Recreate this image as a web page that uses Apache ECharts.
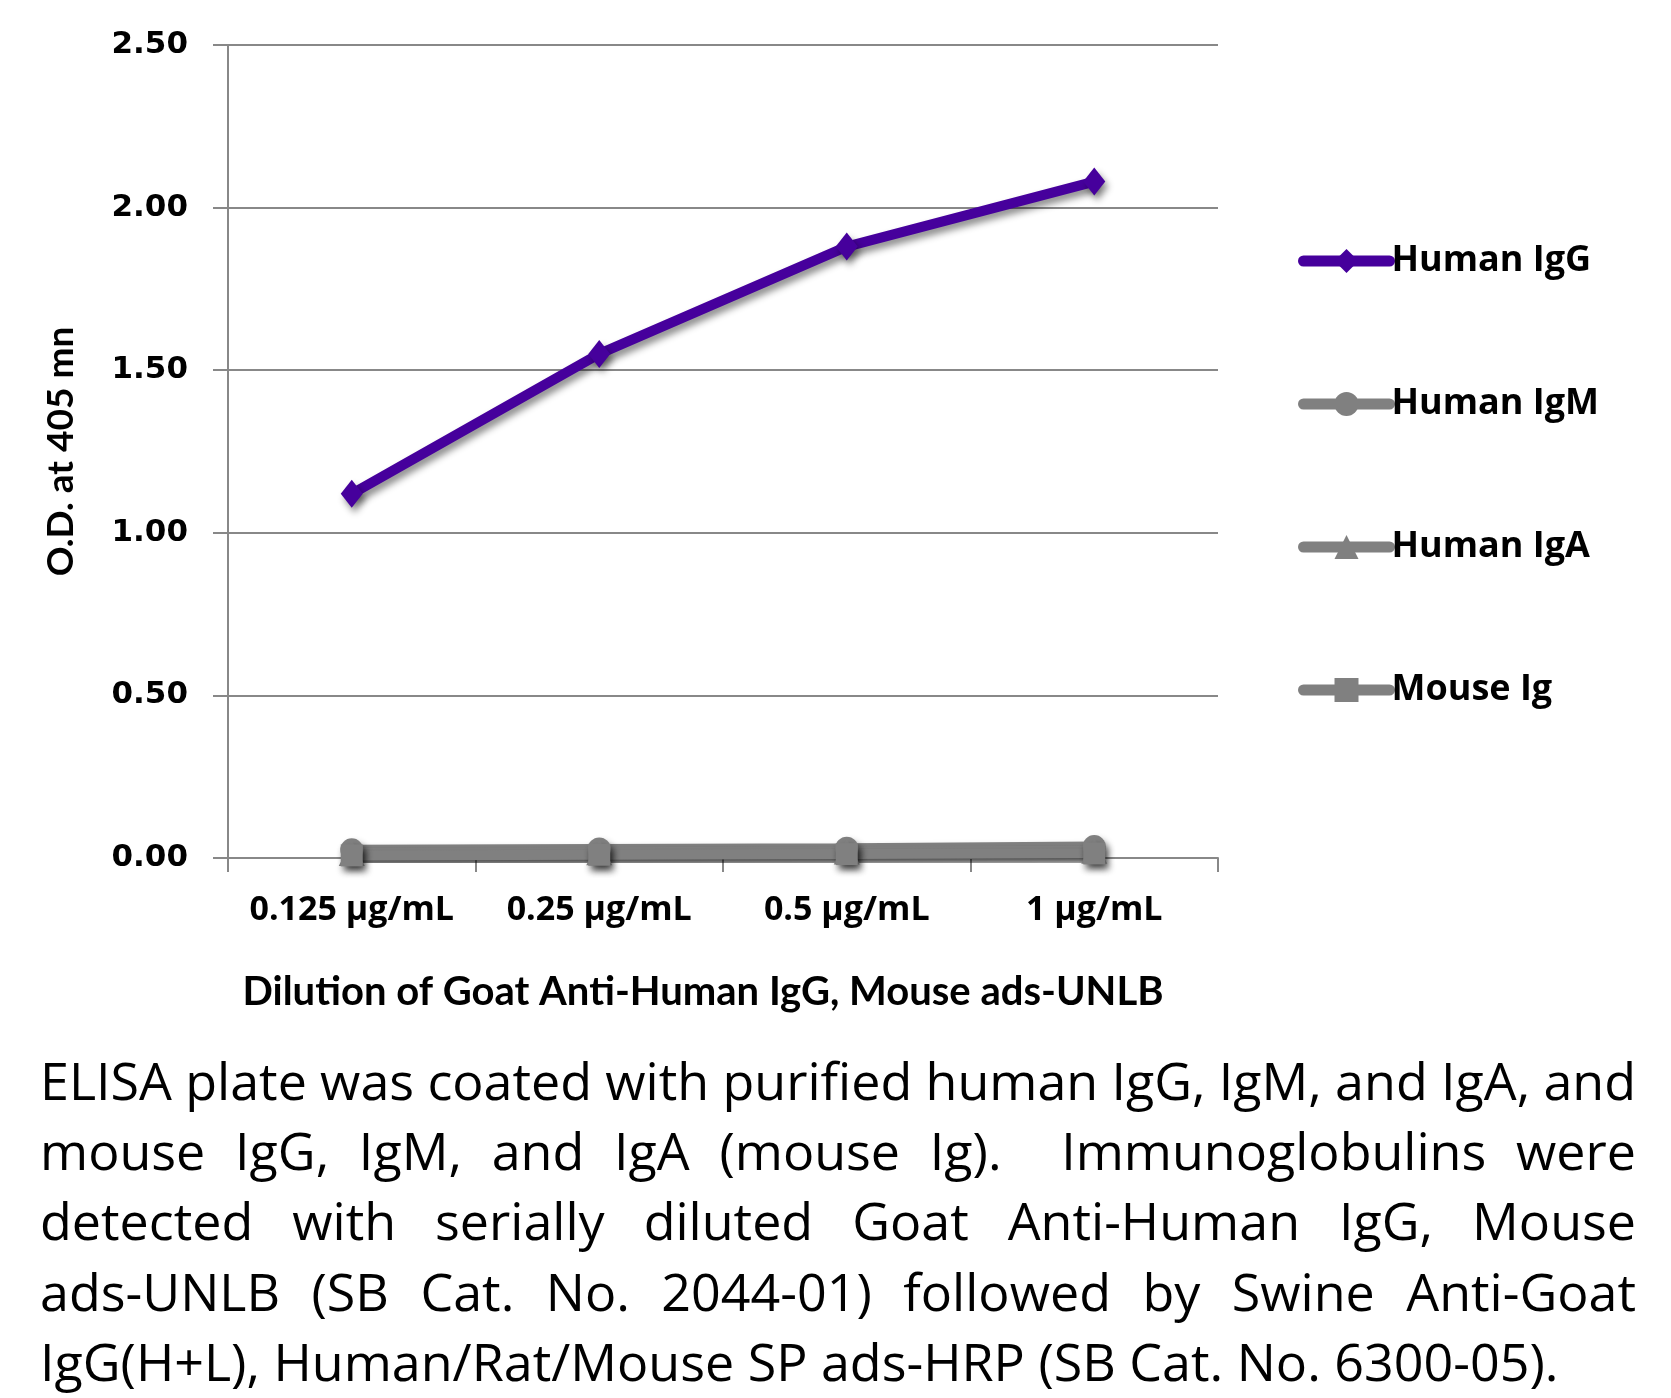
<!DOCTYPE html>
<html><head><meta charset="utf-8">
<script src="https://cdn.jsdelivr.net/npm/echarts@6/dist/echarts.min.js"></script>
<style>html,body{margin:0;padding:0;background:#fff}#c{width:1671px;height:1398px}</style>
</head><body><div id="c"></div>
<script>
// ---- data ----
const categories = ['0.125 µg/mL', '0.25 µg/mL', '0.5 µg/mL', '1 µg/mL'];
const seriesNames = ['Human IgG', 'Human IgM', 'Human IgA', 'Mouse Ig'];
const humanIgG = [1.12, 1.55, 1.88, 2.08];
const humanIgM = [0.025, 0.028, 0.030, 0.035];
const humanIgA = [0.015, 0.018, 0.020, 0.022];
const mouseIg  = [0.008, 0.010, 0.012, 0.014];
const yMin = 0, yMax = 2.5, yStep = 0.5;
const yAxisTitle = 'O.D. at 405 mn';
const xAxisTitle = 'Dilution of Goat Anti-Human IgG, Mouse ads-UNLB';
const captionLines = [
  'ELISA plate was coated with purified human IgG, IgM, and IgA, and',
  'mouse IgG, IgM, and IgA (mouse Ig).  Immunoglobulins were',
  'detected with serially diluted Goat Anti-Human IgG, Mouse',
  'ads-UNLB (SB Cat. No. 2044-01) followed by Swine Anti-Goat',
  'IgG(H+L), Human/Rat/Mouse SP ads-HRP (SB Cat. No. 6300-05).'
];

// ---- styles ----
const purple = '#46009C';
const gray = '#808080';
const axisGray = '#888888';
const shadow = {shadowColor: 'rgba(0,0,0,0.45)', shadowBlur: 7, shadowOffsetX: 3, shadowOffsetY: 5};

// ---- caption (justified) ----
const capSize = 52;
const capFont = capSize + 'px "Open Sans"';
const mctx = document.createElement('canvas').getContext('2d');
mctx.font = capFont;
const capLeft = 40, capRight = 1636, capTop = 1085, capStep = 70.3;
const captionGraphics = [];
captionLines.forEach((line, i) => {
  const y = capTop + i * capStep;
  const justify = i < captionLines.length - 1;
  if (!justify) {
    captionGraphics.push({type: 'text', x: capLeft, y: y,
      style: {text: line, font: capFont, fill: '#000', align: 'left', verticalAlign: 'middle'}});
    return;
  }
  const words = line.split(' ');
  const widths = words.map(w => mctx.measureText(w).width);
  const total = widths.reduce((a, b) => a + b, 0);
  const gap = (capRight - capLeft - total) / (words.length - 1);
  let x = capLeft;
  words.forEach((w, k) => {
    if (w.length) {
      captionGraphics.push({type: 'text', x: x, y: y,
        style: {text: w, font: capFont, fill: '#000', align: 'left', verticalAlign: 'middle'}});
    }
    x += widths[k] + gap;
  });
});

const chart = echarts.init(document.getElementById('c'), null, {renderer: 'canvas'});

function lineSeries(name, data, color, symbol, size) {
  return {
    name: name, type: 'line', data: data,
    symbol: symbol, symbolSize: size,
    lineStyle: Object.assign({color: color, width: 10}, shadow),
    itemStyle: Object.assign({color: color}, shadow),
    emphasis: {disabled: true},
    animation: false
  };
}

chart.setOption({
  backgroundColor: '#fff',
  animation: false,
  grid: {left: 228, right: 453, top: 45, bottom: 540, containLabel: false},
  xAxis: {
    type: 'category', data: categories, boundaryGap: true,
    axisLine: {show: true, lineStyle: {color: axisGray, width: 2}},
    axisTick: {show: true, length: 14, lineStyle: {color: axisGray, width: 2}},
    axisLabel: {interval: 0, color: '#000', fontFamily: 'Open Sans', fontWeight: 'bold', fontSize: 34, lineHeight: 34, margin: 35},
    name: xAxisTitle, nameLocation: 'middle', nameGap: 114,
    nameTextStyle: {color: '#000', fontFamily: 'Lato', fontWeight: 'bold', fontSize: 40, lineHeight: 40, padding: [0, 40, 0, 0]}
  },
  yAxis: {
    type: 'value', min: yMin, max: yMax, interval: yStep,
    axisLine: {show: true, lineStyle: {color: axisGray, width: 2}},
    axisTick: {show: true, length: 15, lineStyle: {color: axisGray, width: 2}},
    splitLine: {show: true, lineStyle: {color: axisGray, width: 2}},
    axisLabel: {color: '#000', fontFamily: 'DejaVu Sans', fontWeight: 'bold', fontSize: 31, margin: 40,
      formatter: v => v.toFixed(2)},
    name: yAxisTitle, nameLocation: 'middle', nameGap: 148,
    nameTextStyle: {color: '#000', fontFamily: 'Lato', fontWeight: 'bold', fontSize: 37, lineHeight: 37}
  },
  legend: {
    orient: 'vertical', left: 1293, top: 238,
    itemWidth: 86, itemHeight: 30, itemGap: 107,
    data: seriesNames,
    textStyle: {color: '#000', fontFamily: 'Open Sans', fontWeight: 'bold', fontSize: 36, lineHeight: 36, padding: [0, 0, 0, -3]},
    lineStyle: {width: 11, cap: 'round', shadowBlur: 0, shadowOffsetX: 0, shadowOffsetY: 0},
    itemStyle: {shadowBlur: 0, shadowOffsetX: 0, shadowOffsetY: 0},
    selectedMode: false
  },
  series: [
    lineSeries(seriesNames[1], humanIgM, gray, 'circle', 23),
    lineSeries(seriesNames[2], humanIgA, gray, 'triangle', 26),
    lineSeries(seriesNames[3], mouseIg, gray, 'rect', 22),
    lineSeries(seriesNames[0], humanIgG, purple, 'diamond', [22, 28])
  ],
  graphic: captionGraphics
});
</script>
</body></html>
